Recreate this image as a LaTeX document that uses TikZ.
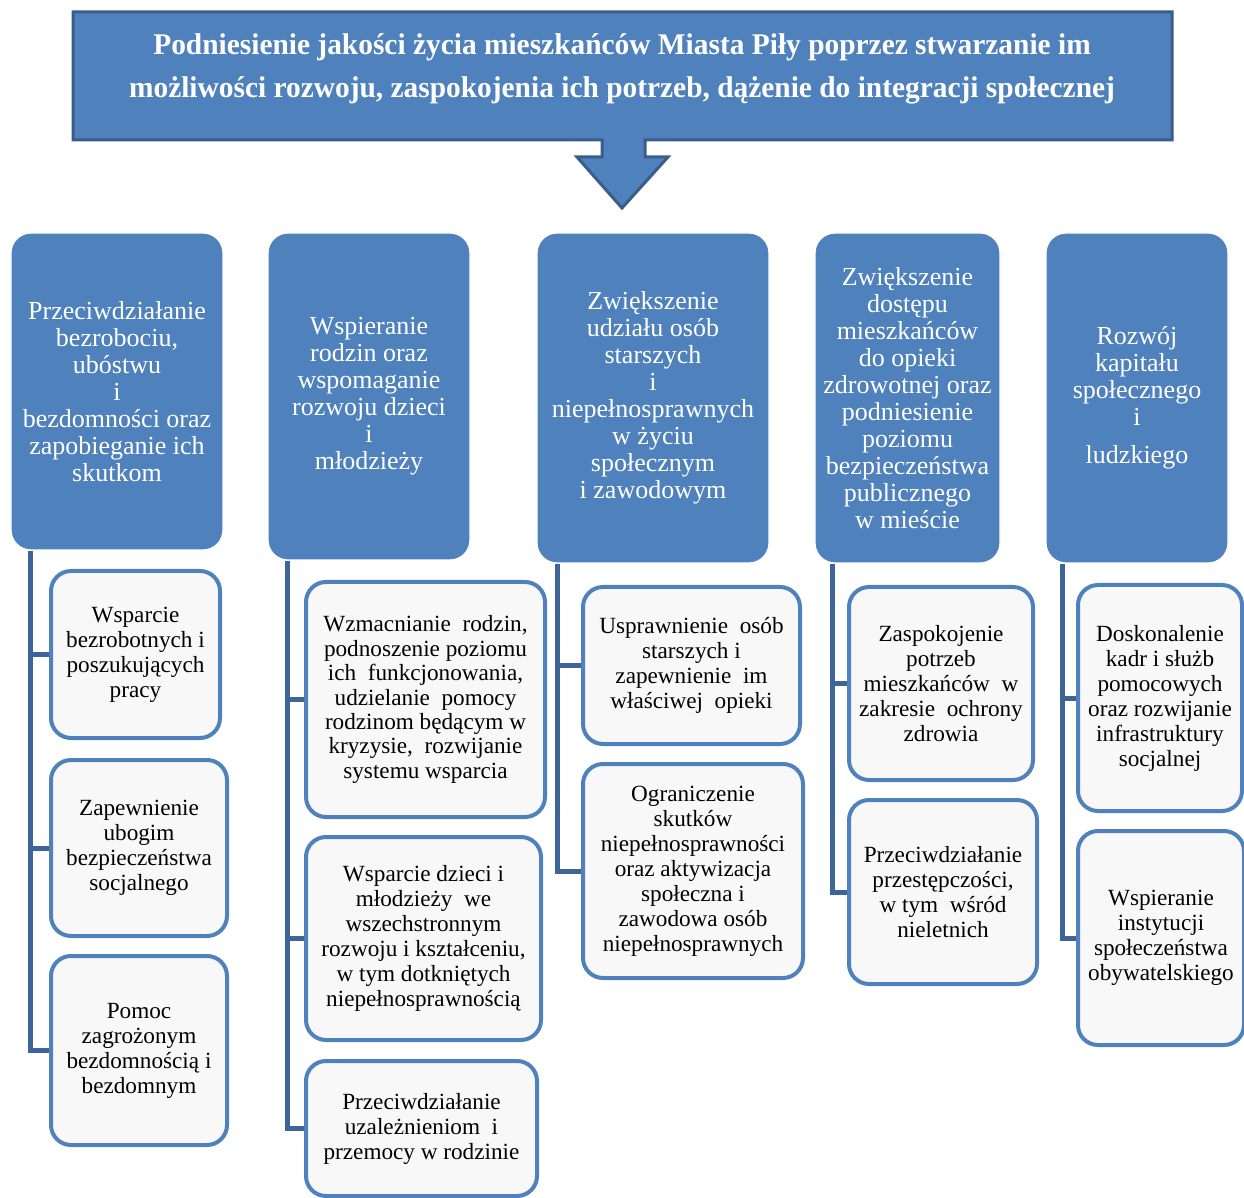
\documentclass[tikz,border=0pt]{standalone}
\usepackage{fontspec}
\setmainfont{Liberation Serif}
\newfontfamily\titlefont[FakeStretch=0.98]{Liberation Serif}
\usetikzlibrary{calc}
\definecolor{cus-blue}{RGB}{79, 129, 189}
\definecolor{cus-dark}{RGB}{56, 93, 138}
\definecolor{cus-line}{RGB}{62, 101, 152}
\definecolor{cus-grey}{RGB}{248, 248, 248}

\begin{document}
\begin{tikzpicture}[x=0.5pt,y=-0.5pt,
	goal/.style={draw=white,line width=0.6pt,fill=cus-blue,rounded corners=10pt,text=white,align=center,inner sep=0pt,font=\fontsize{13pt}{13.5pt}\selectfont},
	task/.style={draw=cus-blue,line width=2pt,fill=cus-grey,rounded corners=10pt,align=center,inner sep=0pt,font=\fontsize{11.6pt}{12.5pt}\selectfont},
	trunk/.style={cus-line,line width=2.5pt,line join=miter}]
\useasboundingbox (0 ,0) rectangle (1244 ,1198);

% banner with the arrow
\draw [line width=1.5pt,draw=cus-dark,fill=cus-blue,line join=miter] (73 ,12) -- (1172 ,12) -- (1172 ,140) -- (645 ,140) -- (645 ,157) -- (668 ,157) -- (622 ,208) -- (577 ,157) -- (602 ,157) -- (602 ,140) -- (73 ,140) -- cycle;
\node (title) [text=white,align=center,font=\titlefont\bfseries\fontsize{15pt}{21.5pt}\selectfont] at (622 ,68.5) {Podniesienie jakości życia mieszkańców Miasta Piły poprzez stwarzanie im\\możliwości rozwoju, zaspokojenia ich potrzeb, dążenie do integracji społecznej};

% goals
\node (g1) [goal,minimum width=106pt,minimum height=158.5pt] at (117 ,391.5) {Przeciwdziałanie\\bezrobociu,\\ubóstwu\\i\\bezdomności oraz\\zapobieganie ich\\skutkom};
\node (g2) [goal,minimum width=101pt,minimum height=163.5pt] at (369 ,396.5) {Wspieranie\\rodzin oraz\\wspomaganie\\rozwoju dzieci\\i\\młodzieży};
\node (g3) [goal,minimum width=116pt,minimum height=165pt] at (653 ,398) {Zwiększenie\\udziału osób\\starszych\\i\\niepełnosprawnych\\w życiu\\społecznym\\i zawodowym};
\node (g4) [goal,minimum width=92.5pt,minimum height=165pt] at (907.5 ,398) {Zwiększenie\\dostępu\\mieszkańców\\do opieki\\zdrowotnej oraz\\podniesienie\\poziomu\\bezpieczeństwa\\publicznego\\w mieście};
\node (g5) [goal,minimum width=91pt,minimum height=165pt] at (1137 ,398) {Rozwój\\kapitału\\społecznego\\i\\[5.5pt]ludzkiego};

% tasks
\node (s11) [task,minimum width=84.5pt,minimum height=83.5pt] at (135.5 ,654.5) {Wsparcie\\bezrobotnych i\\poszukujących\\pracy};
\node (s12) [task,minimum width=88pt,minimum height=88pt] at (139 ,848) {Zapewnienie\\ubogim\\bezpieczeństwa\\socjalnego};
\node (s13) [task,minimum width=88pt,minimum height=94.5pt] at (139 ,1050.5) {Pomoc\\zagrożonym\\bezdomnością i\\bezdomnym};

\node (s21) [task,minimum width=119.5pt,minimum height=117.5pt,font=\fontsize{11.6pt}{12.2pt}\selectfont] at (425.5 ,699.5) {Wzmacnianie~ rodzin,\\podnoszenie poziomu\\ich~ funkcjonowania,\\udzielanie~ pomocy\\rodzinom będącym w\\kryzysie,~ rozwijanie\\systemu wsparcia};
\node (s22) [task,minimum width=117.5pt,minimum height=101.5pt] at (423.5 ,938.5) {Wsparcie dzieci i\\młodzieży~ we\\wszechstronnym\\rozwoju i kształceniu,\\w tym dotkniętych\\niepełnosprawnością};
\node (s23) [task,minimum width=115.5pt,minimum height=67.5pt] at (421.5 ,1128.5) {Przeciwdziałanie\\uzależnieniom~ i\\przemocy w rodzinie};

\node (s31) [task,minimum width=108.5pt,minimum height=78.5pt] at (691.5 ,665.5) {Usprawnienie~ osób\\starszych i\\zapewnienie~ im\\właściwej~ opieki};
\node (s32) [task,minimum width=110pt,minimum height=107pt] at (693 ,871) {Ograniczenie\\skutków\\niepełnosprawności\\oraz aktywizacja\\społeczna i\\zawodowa osób\\niepełnosprawnych};

\node (s41) [task,minimum width=92pt,minimum height=96.5pt] at (941 ,683.5) {Zaspokojenie\\potrzeb\\mieszkańców~ w\\zakresie~ ochrony\\zdrowia};
\node (s42) [task,minimum width=94pt,minimum height=92pt] at (943 ,892) {Przeciwdziałanie\\przestępczości,\\w tym~ wśród\\nieletnich};

\node (s51) [task,minimum width=82pt,minimum height=113pt] at (1160 ,698) {Doskonalenie\\kadr i służb\\pomocowych\\oraz rozwijanie\\infrastruktury\\socjalnej};
\node (s52) [task,minimum width=83pt,minimum height=107pt] at (1161 ,938) {Wspieranie\\instytucji\\społeczeństwa\\obywatelskiego};

% trunks
\coordinate (t1) at (30 ,0);
\coordinate (t2) at (287 ,0);
\coordinate (t3) at (557 ,0);
\coordinate (t4) at (832 ,0);
\coordinate (t5) at (1062 ,0);

\draw [trunk] (g1.south -| t1) |- (s13.west);
\draw [trunk] (s11.west) -- (s11.west -| t1);
\draw [trunk] (s12.west) -- (s12.west -| t1);

\draw [trunk] (g2.south -| t2) |- (s23.west);
\draw [trunk] (s21.west) -- (s21.west -| t2);
\draw [trunk] (s22.west) -- (s22.west -| t2);

\draw [trunk] (g3.south -| t3) |- (s32.west);
\draw [trunk] (s31.west) -- (s31.west -| t3);

\draw [trunk] (g4.south -| t4) |- (s42.west);
\draw [trunk] (s41.west) -- (s41.west -| t4);

\draw [trunk] (g5.south -| t5) |- (s52.west);
\draw [trunk] (s51.west) -- (s51.west -| t5);
\end{tikzpicture}
\end{document}
